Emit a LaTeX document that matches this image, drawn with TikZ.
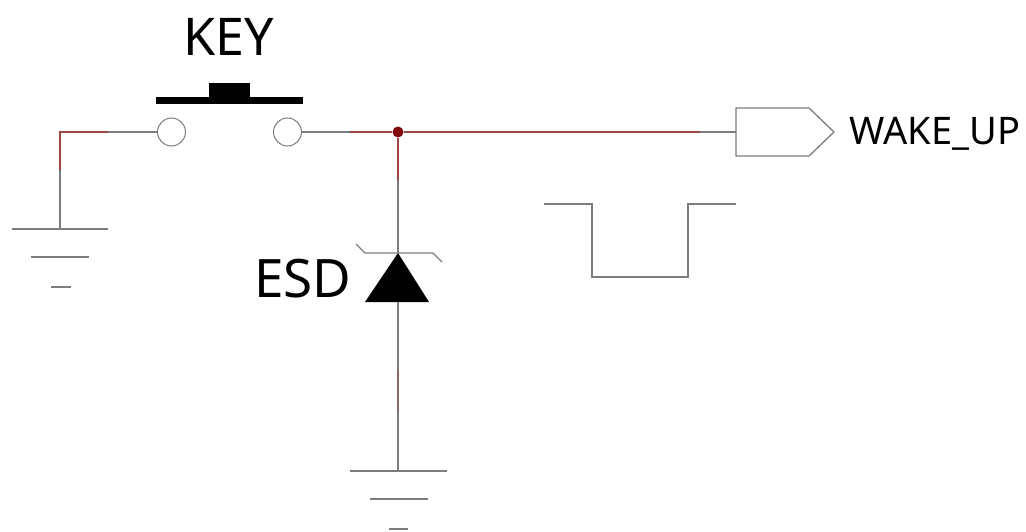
\documentclass[tikz,border=0pt]{standalone}
\usepackage{fontspec}
\setmainfont{Noto Sans}
\definecolor{WireRed}{RGB}{160, 70, 70}
\definecolor{WireGray}{RGB}{125, 125, 125}
\definecolor{DotRed}{RGB}{130, 10, 15}
\usetikzlibrary{positioning}
\tikzset{
    contact/.style={draw=WireGray, circle, fill=white, inner sep=0pt, minimum size=28pt, line width=1pt},
    junction/.style={circle, fill=DotRed, inner sep=0pt, minimum size=11pt},
    wire/.style={draw=WireGray, line width=1.2pt},
    redwire/.style={draw=WireRed, line width=1.2pt},
    fadewire/.style={draw=WireRed!40!WireGray, line width=1.2pt},
    thin line/.style={draw=WireGray, line width=1.3pt},
    label/.style={inner sep=0pt, text=black}
}
\begin{document}
\begin{tikzpicture}[x=1pt, y=-1pt]
    \useasboundingbox (0,0) rectangle (1026,532);

    % switch
    \node[contact] (keyL) at (171.5,132) {};
    \node[contact] (keyR) at (287.5,132) {};
    \fill[black] (156,97) rectangle (303,104);
    \fill[black] (209,83) rectangle (250,100);
    \node[label, font=\fontsize{52}{52}\selectfont] (key) at (229,37) {KEY};

    % junction and port
    \coordinate (cornerL) at (60,132);
    \coordinate (gndA) at (60,229);
    \coordinate (midL) at (108,132);
    \coordinate (midR) at (350,132);
    \node[junction] (dot) at (398,132) {};
    \coordinate (portIn) at (736,132);
    \coordinate (midP) at (700,132);
    \draw[thin line, fill=white] (portIn) -- (736,108) -- (809,108) -- (834,132) -- (809,156) -- (736,156) -- cycle;
    \node[label, font=\fontsize{38}{38}\selectfont] (wake) at (935,134) {WAKE\_UP};

    % wires
    \draw[wire] (keyL) -- (midL);
    \draw[redwire] (midL) -- (cornerL) -- (60,170);
    \draw[wire] (60,170) -- (gndA);
    \draw[wire] (keyR) -- (midR);
    \draw[redwire] (midR) -- (dot);
    \draw[redwire] (dot) -- (midP);
    \draw[wire] (midP) -- (portIn);

    % diode
    \coordinate (esdTop) at (398,253);
    \coordinate (esdBot) at (398,302);
    \coordinate (gndB) at (398,471);
    \fill[black] (esdTop) -- (429,302) -- (365,302) -- cycle;
    \draw[thin line] (356,244) -- (365,253) -- (433,253) -- (442,262);
    \draw[redwire] (dot) -- (398,180);
    \draw[wire] (398,180) -- (esdTop);
    \draw[wire] (esdBot) -- (398,370);
    \draw[fadewire] (398,370) -- (398,410);
    \draw[wire] (398,410) -- (gndB);
    \node[label, font=\fontsize{53}{53}\selectfont] (esd) at (303,279) {ESD};

    % grounds
    \draw[thin line] (12,229) -- (108,229);
    \draw[thin line] (31,257) -- (89,257);
    \draw[thin line] (51,287) -- (71,287);
    \draw[thin line] (350,471) -- (447,471);
    \draw[thin line] (370,499) -- (428,499);
    \draw[thin line] (389,529) -- (408,529);

    % pulse
    \draw[thin line] (544,204) -- (592,204) -- (592,277) -- (688,277) -- (688,204) -- (736,204);
\end{tikzpicture}
\end{document}
